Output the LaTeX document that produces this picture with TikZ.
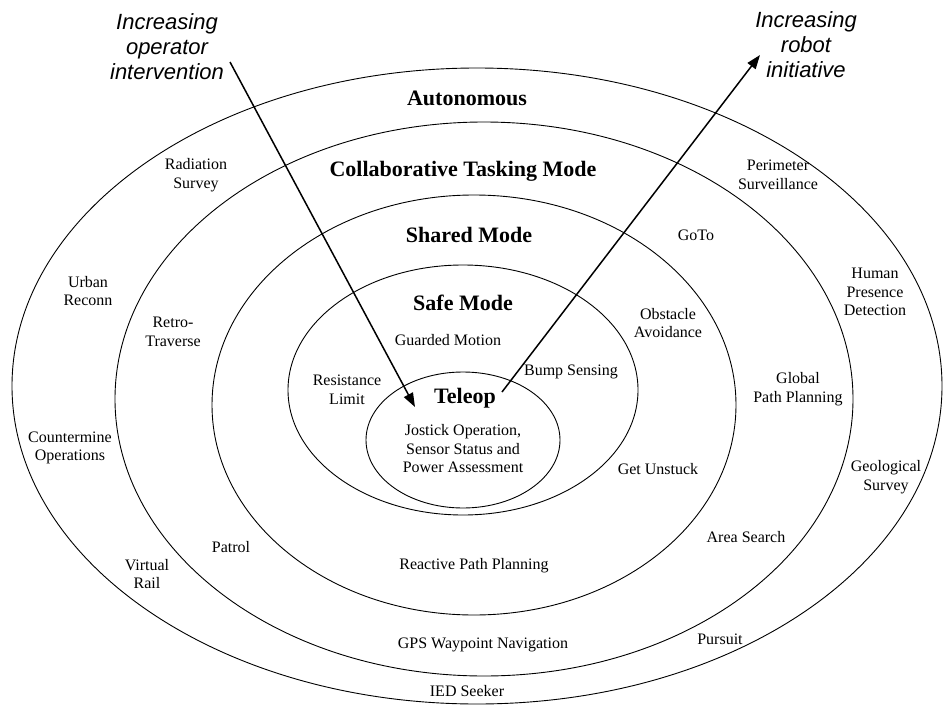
\documentclass[tikz,border=0pt]{standalone}
\usepackage{fontspec}
\setmainfont{Liberation Serif}
\setsansfont{Liberation Sans}
\usetikzlibrary{arrows.meta}

\begin{document}
\begin{tikzpicture}[x=1pt,y=-1pt,
    ring/.style={line width=0.9pt},
    mode/.style={font=\bfseries\fontsize{22}{24}\selectfont},
    task/.style={align=center,font=\fontsize{16}{18.5}\selectfont},
    trend/.style={align=center,font=\sffamily\itshape\fontsize{22}{25}\selectfont},
    >={Triangle[length=14pt,width=10pt]}]

  \useasboundingbox (0,0) rectangle (946,707);

  % nested modes
  \draw[ring] (477,386) ellipse [x radius=465, y radius=318];
  \draw[ring] (484,399) ellipse [x radius=369, y radius=277];
  \draw[ring] (474,405) ellipse [x radius=262, y radius=210];
  \draw[ring] (463,390) ellipse [x radius=175, y radius=125];
  \draw[ring] (463,440) ellipse [x radius=97, y radius=68];

  \node[mode] (auto)   at (467,98)  {Autonomous};
  \node[mode] (collab) at (463,171) {Collaborative Tasking Mode};
  \node[mode] (shared) at (469,235) {Shared Mode};
  \node[mode] (safe)   at (463,303) {Safe Mode};
  \node[mode] (teleop) at (465,398) {Teleop};

  % tasks
  \node[task] (joy)    at (463,449) {Jostick Operation,\\Sensor Status and\\Power Assessment};
  \node[task] (guard)  at (448,340) {Guarded Motion};
  \node[task] (resist) at (347,390) {Resistance\\Limit};
  \node[task] (bump)   at (571,372) {Bump Sensing};
  \node[task] (obst)   at (668,323) {Obstacle\\Avoidance};
  \node[task] (unstuck) at (658,469) {Get Unstuck};
  \node[task] (react)  at (474,566) {Reactive Path Planning};
  \node[task] (goto)   at (696,235) {GoTo};
  \node[task] (retro)  at (173,332) {Retro-\\Traverse};
  \node[task] (patrol) at (231,547) {Patrol};
  \node[task] (global) at (798,389) {Global\\Path Planning};
  \node[task] (area)   at (746,537) {Area Search};
  \node[task] (gps)    at (483,645) {GPS Waypoint Navigation};
  \node[task] (rad)    at (196,175) {Radiation\\Survey};
  \node[task] (urban)  at (88,291)  {Urban\\Reconn};
  \node[task] (mine)   at (70,448)  {Countermine\\Operations};
  \node[task] (rail)   at (147,574) {Virtual\\Rail};
  \node[task] (perim)  at (778,175) {Perimeter\\Surveillance};
  \node[task] (human)  at (875,292) {Human\\Presence\\Detection};
  \node[task] (geo)    at (886,477) {Geological\\Survey};
  \node[task] (pursuit) at (720,639) {Pursuit};
  \node[task] (ied)    at (467,691) {IED Seeker};

  % trends
  \node[trend] (oplbl)  at (167,47) {Increasing\\operator\\intervention};
  \node[trend] (botlbl) at (806,45) {Increasing\\robot\\initiative};

  \coordinate (opstart) at (230,62);
  \coordinate (opend)   at (415,407);
  \coordinate (botstart) at (502,392);
  \coordinate (botend)   at (760,55);

  \draw[->,line width=1.5pt] (opstart) -- (opend);
  \draw[->,line width=1.5pt] (botstart) -- (botend);
\end{tikzpicture}
\end{document}
